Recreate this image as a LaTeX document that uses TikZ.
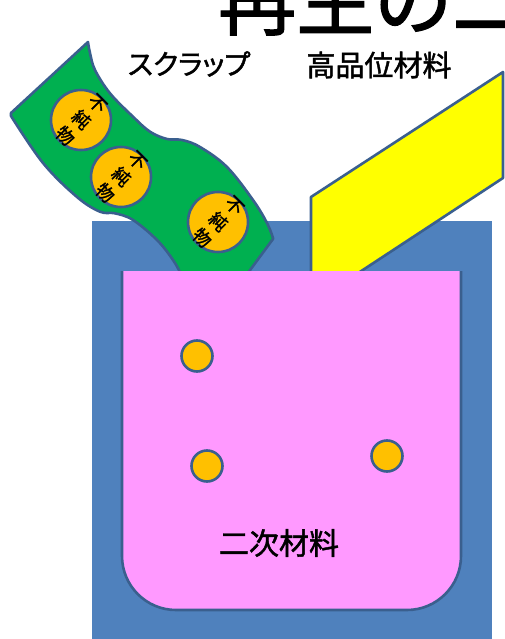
\documentclass[tikz,border=0pt]{standalone}
\usepackage{fontspec}
\newfontfamily\jp[FakeBold=1.5]{Noto Sans CJK JP}
\newfontfamily\jpp[RawFeature=+palt,FakeBold=1.5]{Noto Sans CJK JP}
\definecolor{bluebg}{HTML}{4F81BD}
\definecolor{edgec}{HTML}{3A5F8E}
\definecolor{greenc}{HTML}{00B050}
\definecolor{yellowc}{HTML}{FFFF00}
\definecolor{orangec}{HTML}{FFC000}
\definecolor{pinkc}{HTML}{FF99FF}
\tikzset{
  outl/.style={draw=edgec, line width=2.6pt, line join=round},
  bigdot/.style={circle, fill=orangec, outl, minimum size=60pt, inner sep=0pt},
  smalldot/.style={circle, fill=orangec, outl, minimum size=31pt, inner sep=0pt},
  imptext/.style={rotate=-45, align=center, inner sep=0pt, font=\jp\fontsize{18}{23}\selectfont},
  lbl/.style={inner sep=0pt, text=black}
}
\begin{document}
\begin{tikzpicture}[x=1pt,y=-1pt]
\useasboundingbox (0,0) rectangle (505,639);
\fill[white] (0,0) rectangle (505,639);
% blue background container
\fill[bluebg] (92,221) rectangle (492,645);
% green scrap band
\path[fill=greenc, outl] (88,42) -- (11,113)
  -- plot[smooth, tension=0.6] coordinates {(11,116) (43,163) (77,197) (100,211.7) (115,213.3) (133,220) (157,240) (173,260) (182,276) (195,300)}
  -- (228,300) -- (273,239)
  -- plot[smooth, tension=0.6] coordinates {(273,238) (267,223) (253,200) (227,167) (200,147) (182,140) (167,139) (150,131.7) (133,116.7) (110,93.3) (95,70) (90,53) (88,42)}
  -- cycle;
\node[bigdot] (g1) at (81,120) {};
\node[bigdot] (g2) at (121,177) {};
\node[bigdot] (g3) at (218,222) {};
\node[imptext] (t1) at (g1) {不\\純\\物};
\node[imptext] (t2) at (g2) {不\\純\\物};
\node[imptext] (t3) at (g3) {不\\純\\物};
% yellow high-grade material
\path[fill=yellowc, outl] (311,197) -- (503,72) -- (503,178) -- (311,304) -- cycle;
% pink cup
\fill[pinkc] (122,271) -- (122,556) .. controls (122,585.8) and (146.2,610) .. (176,610)
  -- (407,610) .. controls (436.8,610) and (461,585.8) .. (461,556) -- (461,271) -- cycle;
\draw[outl] (122,271) -- (122,556) .. controls (122,585.8) and (146.2,610) .. (176,610)
  -- (407,610) .. controls (436.8,610) and (461,585.8) .. (461,556) -- (461,271);
\node[smalldot] (p1) at (197,356) {};
\node[smalldot] (p2) at (207,466) {};
\node[smalldot] (p3) at (387,456) {};
% labels
\node[lbl, anchor=base west, font=\jp\fontsize{78}{80}\selectfont] (title) at (218,29) {再生の二};
\node[lbl, font=\jpp\fontsize{28}{30}\selectfont] (scrap) at (189,64) {スクラップ};
\node[lbl, font=\jp\fontsize{29}{30}\selectfont] (high) at (379,65) {高品位材料};
\node[lbl, font=\jp\fontsize{30}{32}\selectfont] (second) at (279,543) {二次材料};
\end{tikzpicture}
\end{document}
